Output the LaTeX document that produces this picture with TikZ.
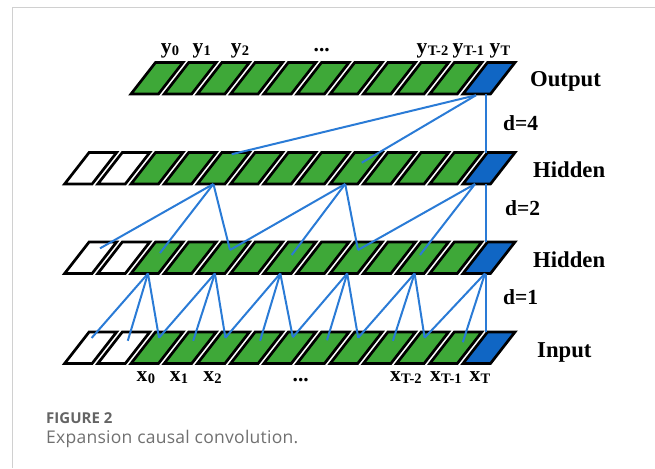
\documentclass[tikz,border=0pt]{standalone}
\usepackage{fontspec}
\setmainfont{Liberation Serif}
\newfontfamily\capfont{Open Sans}
\definecolor{cgreen}{RGB}{62,168,56}
\definecolor{cblue}{RGB}{16,102,196}
\definecolor{cline}{RGB}{42,123,214}
\definecolor{cframe}{RGB}{208,208,208}
\definecolor{ccap}{RGB}{112,112,112}
\definecolor{ccaphead}{RGB}{100,100,100}
\newcommand\lbl[2]{#1\kern0.4pt\raisebox{-1.5pt}{\fontsize{14.5}{14.5}\selectfont #2}}
\newcommand\conn[6]{\draw[conn] ([shift={(#2,#3)}]#1.center) -- ([shift={(#5,#6)}]#4.center);}
% cell: name, x, y, fill
\newcommand\cellat[4]{%
  \node[cellname] (#1) at (#2,#3) {};
  \draw[cellbox, fill=#4] ([shift={(-26,15.75)}]#1.center) -- ++(27.5,0) -- ++(24.5,-31.5) -- ++(-27.5,0) -- cycle;}
\begin{document}
\begin{tikzpicture}[x=1pt,y=-1pt,
  cellname/.style={inner sep=0pt, outer sep=0pt, minimum size=0pt},
  cellbox/.style={draw=black, line width=2.7pt, line join=miter, miter limit=3},
  conn/.style={draw=cline, line width=2pt},
  lab/.style={font=\fontsize{21.5}{21.5}\selectfont\bfseries, inner sep=0pt},
  side/.style={font=\fontsize{22.7}{22.7}\selectfont\bfseries, inner sep=0pt, anchor=base west},
  dlab/.style={font=\fontsize{21.5}{21.5}\selectfont\bfseries, inner sep=0pt, anchor=base west},
  frameline/.style={draw=cframe, line width=1pt}]
\useasboundingbox (0,0) rectangle (655,468);
% frame
\draw[frameline] (12.5,468) -- (12.5,7.5) -- (655,7.5);
% rows
\foreach \r/\yy in {A/168.25,B/257.75,I/347.75}{
  \foreach \k in {0,1} {\pgfmathsetmacro\xx{90.6+33.2*\k}\cellat{\r\k}{\xx}{\yy}{white}}
  \foreach \k in {2,...,11} {\pgfmathsetmacro\xx{90.6+33.2*\k}\cellat{\r\k}{\xx}{\yy}{cgreen}}
  \cellat{\r12}{489}{\yy}{cblue}
}
\foreach \k in {2,...,11} {\pgfmathsetmacro\xx{90.6+33.2*\k}\cellat{O\k}{\xx}{78.25}{cgreen}}
\cellat{O12}{489}{78.25}{cblue}
% output -> hidden 1 (d=4)
\conn{O12}{-13}{17}{A4}{8.3}{-14}
\conn{O12}{-13}{17}{A8}{5.5}{-5.5}
\conn{O12}{-3}{15.75}{A12}{-3}{-15.75}
% hidden 1 -> hidden 2 (d=2)
\conn{A4}{-10}{15.75}{B0}{9.4}{-9.4}
\conn{A4}{-10}{15.75}{B2}{3}{-4.75}
\conn{A4}{-10}{15.75}{B4}{6.6}{-7.75}
\conn{A8}{-11}{15.75}{B4}{6.6}{-7.75}
\conn{A8}{-11}{15.75}{B6}{1.9}{-2.75}
\conn{A8}{-11}{15.75}{B8}{1.8}{-7.75}
\conn{A12}{-14}{15.75}{B8}{1.8}{-7.75}
\conn{A12}{-14}{15.75}{B10}{-2.6}{-2.75}
\conn{A12}{-3}{15.75}{B12}{-3}{-15.75}
% hidden 2 -> input (d=1)
\conn{B2}{-9}{15.75}{I0}{1}{-9.75}
\conn{B2}{-9}{15.75}{I1}{4}{-7}
\conn{B2}{-9}{15.75}{I2}{2}{-10}
\conn{B4}{-8.5}{15.75}{I2}{2}{-10}
\conn{B4}{-8.5}{15.75}{I3}{3}{-7}
\conn{B4}{-8.5}{15.75}{I4}{2}{-10}
\conn{B6}{-9.5}{15.75}{I4}{2}{-10}
\conn{B6}{-9.5}{15.75}{I5}{3.5}{-7}
\conn{B6}{-9.5}{15.75}{I6}{3}{-10.5}
\conn{B8}{-9}{15.75}{I6}{3}{-10.5}
\conn{B8}{-9}{15.75}{I7}{4}{-7.5}
\conn{B8}{-9}{15.75}{I8}{2}{-10}
\conn{B10}{-8}{15.75}{I8}{2}{-10}
\conn{B10}{-8}{15.75}{I9}{3.5}{-7}
\conn{B10}{-8}{15.75}{I10}{2}{-10}
\conn{B12}{-4}{15.75}{I10}{2}{-10}
\conn{B12}{-4}{15.75}{I11}{7}{-5.5}
\conn{B12}{-3}{15.75}{I12}{-3}{-15.75}
% top labels
\node[lab, anchor=base] (ly0) at (170,53.8) {\lbl{y}{0}};
\node[lab, anchor=base] (ly1) at (201.7,53.8) {\lbl{y}{1}};
\node[lab, anchor=base] (ly2) at (240,53.8) {\lbl{y}{2}};
\node[lab, anchor=base] (lyd) at (321.7,52) {...};
\node[lab, anchor=base] (lyT2) at (432.5,53.8) {\lbl{y}{T-2}};
\node[lab, anchor=base] (lyT1) at (468.3,53.8) {\lbl{y}{T-1}};
\node[lab, anchor=base] (lyT) at (500,53.8) {\lbl{y}{T}};
% bottom labels
\node[lab, anchor=base] (lx0) at (145.8,381.7) {\lbl{x}{0}};
\node[lab, anchor=base] (lx1) at (179,381.7) {\lbl{x}{1}};
\node[lab, anchor=base] (lx2) at (212.5,381.7) {\lbl{x}{2}};
\node[lab, anchor=base] (lxd) at (300.8,381) {...};
\node[lab, anchor=base] (lxT2) at (405.8,381.7) {\lbl{x}{T-2}};
\node[lab, anchor=base] (lxT1) at (445.8,381.7) {\lbl{x}{T-1}};
\node[lab, anchor=base] (lxT) at (480,381.7) {\lbl{x}{T}};
% side labels
\node[side] (lout) at (530,87) {Output};
\node[side] (lh1) at (533,177) {Hidden};
\node[side] (lh2) at (533,267) {Hidden};
\node[side] (lin) at (537,357) {Input};
\node[dlab] (ld4) at (503,130.5) {d=4};
\node[dlab] (ld2) at (505,215) {d=2};
\node[dlab] (ld1) at (503,304.5) {d=1};
% caption
\node[anchor=base west, inner sep=0pt, text=ccaphead, font=\capfont\bfseries\fontsize{15}{15}\selectfont] (cap1) at (46,423.3) {FIGURE 2};
\node[anchor=base west, inner sep=0pt, text=ccap, font=\capfont\fontsize{17.5}{17.5}\selectfont\addfontfeature{LetterSpace=1.5}] (cap2) at (46,443.3) {Expansion causal convolution.};
\end{tikzpicture}
\end{document}
